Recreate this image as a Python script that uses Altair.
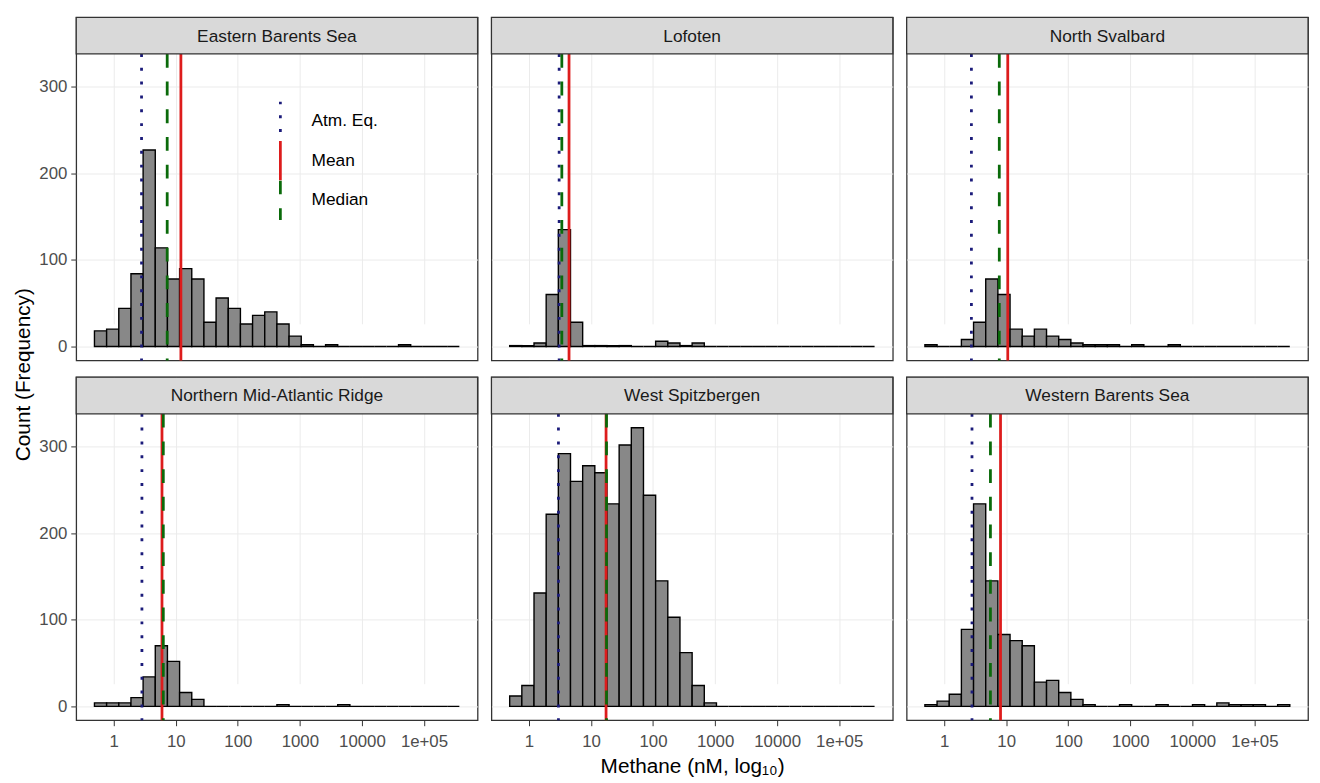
import altair as alt
import pandas as pd

FONT = "Liberation Sans"

REGIONS = ["Eastern Barents Sea", "Lofoten", "North Svalbard",
           "Northern Mid-Atlantic Ridge", "West Spitzbergen", "Western Barents Sea"]

# histogram bins (log10 nM), 30 bins shared by all panels
BIN_START_LOG10 = -0.31
BIN_WIDTH_LOG10 = 0.196
N_BINS = 30

COUNTS = {
    "Eastern Barents Sea": [18, 20, 44, 84, 227, 114, 78, 90, 78, 28, 56, 44, 26, 36, 40,
                            26, 12, 2, 0, 2, 0, 0, 0, 0, 0, 2, 0, 0, 0, 0],
    "Lofoten": [1, 1, 4, 60, 135, 28, 1, 1, 1, 1, 0, 0, 6, 4, 1,
                4, 0, 0, 0, 0, 0, 0, 0, 0, 0, 0, 0, 0, 0, 0],
    "North Svalbard": [2, 0, 0, 8, 28, 78, 60, 20, 12, 20, 12, 8, 4, 2, 2,
                       2, 0, 2, 0, 0, 2, 0, 0, 0, 0, 0, 0, 0, 0, 0],
    "Northern Mid-Atlantic Ridge": [4, 4, 4, 10, 34, 70, 52, 16, 8, 0, 0, 0, 0, 0, 0,
                                    2, 0, 0, 0, 0, 2, 0, 0, 0, 0, 0, 0, 0, 0, 0],
    "West Spitzbergen": [12, 24, 131, 222, 292, 260, 278, 270, 234, 302, 322, 244, 145, 103, 62,
                         24, 4, 0, 0, 0, 0, 0, 0, 0, 0, 0, 0, 0, 0, 0],
    "Western Barents Sea": [2, 6, 14, 89, 234, 145, 83, 76, 70, 28, 30, 16, 8, 2, 0,
                            0, 2, 0, 0, 2, 0, 0, 2, 0, 4, 2, 2, 2, 0, 2],
}

STATS = ["Atm. Eq.", "Mean", "Median"]
ATM_EQ = [2.81, 3.07, 2.75, 2.85, 2.99, 2.81]
MEAN = [12.1, 4.43, 10.6, 6.0, 17.5, 8.1]
MEDIAN = [7.28, 3.39, 7.74, 6.3, 17.8, 5.57]

X_TICKS = [1, 10, 100, 1000, 10000, 100000]
X_TICK_LABELS = ["1", "10", "100", "1000", "10000", "1e+05"]
Y_TICKS = [0, 100, 200, 300]

X_DOMAIN = [10 ** -0.604, 10 ** 5.864]
Y_DOMAIN = [-16.1, 338.1]

# ---- build tables ----
rows = []
for r in REGIONS:
    for i, c in enumerate(COUNTS[r]):
        lo = BIN_START_LOG10 + i * BIN_WIDTH_LOG10
        rows.append({"region": r, "lo": 10 ** lo, "hi": 10 ** (lo + BIN_WIDTH_LOG10),
                     "count": c, "base": 0})
bins_df = pd.DataFrame(rows)

srows = []
for k, r in enumerate(REGIONS):
    srows.append({"region": r, "stat": "Atm. Eq.", "value": ATM_EQ[k]})
    srows.append({"region": r, "stat": "Mean", "value": MEAN[k]})
    srows.append({"region": r, "stat": "Median", "value": MEDIAN[k]})
stats_df = pd.DataFrame(srows)
strip_df = pd.DataFrame({"region": REGIONS})

W, PH, SH = 406, 310, 37
H = PH + SH

label_expr = "[" + ",".join("'%s'" % s for s in X_TICK_LABELS) + "][round(log(datum.value)/LN10)]"

legend = alt.Legend(title=None, orient="none", legendX=185, legendY=85,
                    symbolType="M0,-1L0,1", symbolSize=1600, symbolStrokeWidth=2.8,
                    labelFontSize=17.5, labelColor="#000000", labelFont=FONT,
                    rowPadding=0, labelOffset=10, clipHeight=40)

color_scale = alt.Scale(domain=STATS, range=["#1B1B7A", "#DD1C1C", "#0A6A0A"])
dash_scale = alt.Scale(domain=STATS, range=[[3, 11], [1, 0], [14, 14]])


def panel(k):
    r = REGIONS[k]
    col = k % 3
    row = k // 3
    bottom = row == 1
    left = col == 0

    if bottom:
        xaxis = alt.Axis(values=X_TICKS, labelExpr=label_expr, grid=True, gridColor="#EBEBEB",
                         domain=False, ticks=True, tickColor="#333333", tickSize=5.5,
                         labelFontSize=17, labelColor="#4D4D4D", labelFont=FONT, labelPadding=8,
                         labelFlush=False, labelOverlap=False,
                         title="Methane (nM, log\u2081\u2080)" if col == 1 else None,
                         titleFontSize=21, titleFontWeight="normal", titleColor="#000000",
                         titleFont=FONT, titlePadding=6)
    else:
        xaxis = alt.Axis(values=X_TICKS, grid=True, gridColor="#EBEBEB", domain=False,
                         ticks=False, labels=False, title=None)
    if left:
        yaxis = alt.Axis(values=Y_TICKS, grid=True, gridColor="#EBEBEB", domain=False,
                         ticks=True, tickColor="#333333", tickSize=5.5,
                         labelFontSize=17, labelColor="#4D4D4D", labelFont=FONT, labelPadding=4,
                         title=None)
    else:
        yaxis = alt.Axis(values=Y_TICKS, grid=True, gridColor="#EBEBEB", domain=False,
                         ticks=False, labels=False, title=None)

    xs = alt.Scale(type="log", domain=X_DOMAIN, nice=False)
    ys = alt.Scale(domain=Y_DOMAIN, range=[H, SH], nice=False, zero=False)

    bars = alt.Chart(bins_df).transform_filter(alt.datum.region == r).mark_rect(
        fill="#888888", stroke="#000000", strokeWidth=1.4
    ).encode(
        x=alt.X("lo:Q", scale=xs, axis=xaxis),
        x2="hi:Q",
        y=alt.Y("count:Q", scale=ys, axis=yaxis),
        y2="base:Q",
    )

    lines = alt.Chart(stats_df).transform_filter(alt.datum.region == r).mark_rule(
        strokeWidth=2.8
    ).encode(
        x=alt.X("value:Q", scale=xs),
        y=alt.value(SH), y2=alt.value(H),
        color=alt.Color("stat:N", scale=color_scale, legend=legend),
        strokeDash=alt.StrokeDash("stat:N", scale=dash_scale, legend=legend),
    )

    strip_bg = alt.Chart(strip_df).transform_filter(alt.datum.region == r).mark_rect(
        fill="#D9D9D9", stroke="#333333", strokeWidth=1.3
    ).encode(x=alt.value(0), x2=alt.value(W), y=alt.value(0), y2=alt.value(SH))

    strip_txt = alt.Chart(strip_df).transform_filter(alt.datum.region == r).mark_text(
        fontSize=17.5, color="#1A1A1A", font=FONT, baseline="middle", align="center"
    ).encode(x=alt.value(W / 2), y=alt.value(SH / 2 + 1), text="region:N")

    return alt.layer(bars, lines, strip_bg, strip_txt).properties(width=W, height=H)


row1 = alt.hconcat(panel(0), panel(1), panel(2), spacing=10)
row2 = alt.hconcat(panel(3), panel(4), panel(5), spacing=10)

chart = alt.vconcat(row1, row2, spacing=12).resolve_scale(
    color="shared", strokeDash="shared"
).resolve_legend(color="shared", strokeDash="shared").properties(
    title=alt.TitleParams("Count (Frequency)", orient="left", anchor="middle", fontSize=21,
                          fontWeight="normal", color="#000000", font=FONT, offset=4, dx=22),
    padding={"left": 5, "top": 3, "right": 2, "bottom": 0},
    background="white",
).configure_view(stroke="#333333", strokeWidth=1.3, fill="white")

chart.save("out.html", embed_options={"renderer": "svg", "actions": False})
